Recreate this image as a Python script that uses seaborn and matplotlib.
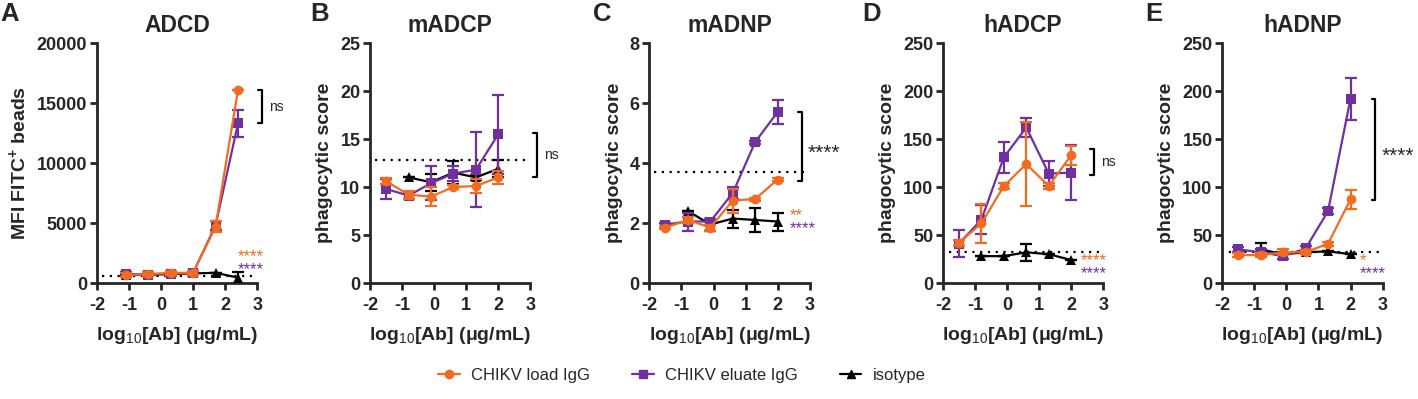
import numpy as np
import pandas as pd
import seaborn as sns
import matplotlib.pyplot as plt
from matplotlib.lines import Line2D

sns.set_style("ticks")
plt.rcParams['font.family'] = ['Liberation Sans', 'DejaVu Sans']
plt.rcParams['mathtext.fontset'] = 'custom'
plt.rcParams['mathtext.rm'] = 'Liberation Sans'
plt.rcParams['mathtext.bf'] = 'Liberation Sans:bold'
plt.rcParams['axes.unicode_minus'] = False

ORANGE = '#F36B21'
PURPLE = '#7030A0'
BLACK = '#000000'

groups = ['CHIKV load IgG', 'CHIKV eluate IgG', 'isotype']

# ADCD
adcd_x = [-1.1, -0.4, 0.3, 1.0, 1.7, 2.4]
adcd_load = [650, 750, 850, 850, 4700, 16100]
adcd_load_err = [150, 150, 150, 150, 450, 0]
adcd_eluate = [750, 700, 750, 850, 4800, 13300]
adcd_eluate_err = [150, 150, 150, 150, 400, 1100]
adcd_iso = [700, 700, 750, 800, 850, 450]
adcd_iso_err = [0, 0, 0, 0, 0, 500]

# mADCP
madcp_x = [-1.5, -0.8, -0.1, 0.6, 1.3, 2.0]
madcp_load = [10.6, 9.2, 9.0, 10.0, 10.1, 11.0]
madcp_load_err = [0.3, 0.4, 1.0, 0.2, 0.7, 0.7]
madcp_eluate = [9.8, 9.1, 10.4, 11.4, 11.8, 15.5]
madcp_eluate_err = [1.0, 0.4, 1.8, 0.8, 3.9, 4.1]
madcp_iso = [np.nan, 11.0, 10.5, 11.5, 11.0, 11.9]
madcp_iso_err = [0, 0, 0.9, 1.2, 0.3, 0.9]

# mADNP
madnp_x = [-1.5, -0.8, -0.1, 0.6, 1.3, 2.0]
madnp_load = [1.85, 2.1, 1.85, 2.75, 2.8, 3.45]
madnp_load_err = [0.05, 0.1, 0.1, 0.4, 0.05, 0.05]
madnp_eluate = [1.95, 2.05, 2.05, 3.0, 4.7, 5.7]
madnp_eluate_err = [0.05, 0.3, 0.1, 0.2, 0.05, 0.4]
madnp_iso = [np.nan, 2.4, 1.95, 2.15, 2.1, 2.05]
madnp_iso_err = [0, 0, 0.2, 0.3, 0.4, 0.3]

# hADCP
hadcp_x = [-1.5, -0.8, -0.1, 0.6, 1.3, 2.0]
hadcp_load = [42, 62, 101, 124, 101, 133]
hadcp_load_err = [3, 20, 3, 44, 3, 10]
hadcp_eluate = [41, 66, 131, 162, 114, 115]
hadcp_eluate_err = [14, 15, 16, 10, 13, 29]
hadcp_iso = [np.nan, 28, 28, 32, 30, 24]
hadcp_iso_err = [0, 0, 0, 9, 0, 0]

# hADNP
hadnp_x = [-1.5, -0.8, -0.1, 0.6, 1.3, 2.0]
hadnp_load = [29, 29, 32, 32, 41, 87]
hadnp_load_err = [2, 2, 3, 2, 2, 10]
hadnp_eluate = [35, 32, 28, 36, 75, 192]
hadnp_eluate_err = [3, 3, 3, 3, 3, 22]
hadnp_iso = [np.nan, 35, 30, 32, 33, 30]
hadnp_iso_err = [0, 7, 0, 0, 0, 0]

panels = [
    dict(letter='A', title='ADCD', x=adcd_x, load=adcd_load, load_err=adcd_load_err,
         eluate=adcd_eluate, eluate_err=adcd_eluate_err, iso=adcd_iso, iso_err=adcd_iso_err,
         ylim=20000, yticks=[0, 5000, 10000, 15000, 20000], ylabel=r'MFI FITC$^{\mathbf{+}}$ beads',
         dotted=(600, -1.85, 2.9), bracket=(3.15, 13300, 16100, 'ns', False),
         stars=[(2.4, 2200, '****', ORANGE), (2.4, 1100, '****', PURPLE)]),
    dict(letter='B', title='mADCP', x=madcp_x, load=madcp_load, load_err=madcp_load_err,
         eluate=madcp_eluate, eluate_err=madcp_eluate_err, iso=madcp_iso, iso_err=madcp_iso_err,
         ylim=25, yticks=[0, 5, 10, 15, 20, 25], ylabel='phagocytic score',
         dotted=(12.8, -1.85, 2.9), bracket=(3.2, 11.0, 15.6, 'ns', False), stars=[]),
    dict(letter='C', title='mADNP', x=madnp_x, load=madnp_load, load_err=madnp_load_err,
         eluate=madnp_eluate, eluate_err=madnp_eluate_err, iso=madnp_iso, iso_err=madnp_iso_err,
         ylim=8, yticks=[0, 2, 4, 6, 8], ylabel='phagocytic score',
         dotted=(3.7, -1.85, 2.9), bracket=(2.75, 3.4, 5.7, '****', True),
         stars=[(2.37, 2.25, '**', ORANGE), (2.37, 1.81, '****', PURPLE)]),
    dict(letter='D', title='hADCP', x=hadcp_x, load=hadcp_load, load_err=hadcp_load_err,
         eluate=hadcp_eluate, eluate_err=hadcp_eluate_err, iso=hadcp_iso, iso_err=hadcp_iso_err,
         ylim=250, yticks=[0, 50, 100, 150, 200, 250], ylabel='phagocytic score',
         dotted=(32, -1.8, 2.95), bracket=(2.7, 113, 140, 'ns', False),
         stars=[(2.3, 23.5, '****', ORANGE), (2.3, 9.75, '****', PURPLE)]),
    dict(letter='E', title='hADNP', x=hadnp_x, load=hadnp_load, load_err=hadnp_load_err,
         eluate=hadnp_eluate, eluate_err=hadnp_eluate_err, iso=hadnp_iso, iso_err=hadnp_iso_err,
         ylim=250, yticks=[0, 50, 100, 150, 200, 250], ylabel='phagocytic score',
         dotted=(32, -2.05, 2.95), bracket=(2.78, 86, 192, '****', True),
         stars=[(2.3, 23.5, '*', ORANGE), (2.3, 9.75, '****', PURPLE)]),
]

palette = {groups[0]: ORANGE, groups[1]: PURPLE, groups[2]: BLACK}
markers = {groups[0]: 'o', groups[1]: 's', groups[2]: '^'}

fig = plt.figure(figsize=(14.18, 3.99), dpi=100)
lefts = [0.0684, 0.261, 0.458, 0.665, 0.862]
letter_x = [0.0, 0.2186, 0.418, 0.608, 0.8075]

for left, lx, p in zip(lefts, letter_x, panels):
    ax = fig.add_axes([left, 0.2907, 0.113, 0.6015])
    df = pd.DataFrame({
        'x': p['x'] * 3,
        'y': p['iso'] + p['eluate'] + p['load'],
        'group': [groups[2]] * 6 + [groups[1]] * 6 + [groups[0]] * 6,
    })
    # horizontal dotted reference line
    yd, x0, x1 = p['dotted']
    ax.plot([x0, x1], [yd, yd], ls=(0, (1, 2.5)), color='black', lw=1.6, zorder=1)
    errs = {groups[0]: p['load_err'], groups[1]: p['eluate_err'], groups[2]: p['iso_err']}
    for z, g in enumerate([groups[2], groups[1], groups[0]]):
        mask = df['group'] == g
        sub = df[mask].dropna()
        e = np.array(errs[g])[df[mask]['y'].notna().values]
        ax.errorbar(sub['x'], sub['y'], yerr=e, fmt='none', ecolor=palette[g],
                    elinewidth=1.6, capsize=4.5, capthick=1.6, zorder=2 + 2 * z)
        sns.lineplot(data=sub, x='x', y='y', color=palette[g], marker=markers[g],
                     markersize=7 if g != groups[2] else 6.5, markeredgewidth=0,
                     lw=1.6, ax=ax, zorder=3 + 2 * z, legend=False)
    ax.set_xlim(-2, 3)
    ax.set_ylim(0, p['ylim'])
    ax.set_xticks([-2, -1, 0, 1, 2, 3])
    ax.set_yticks(p['yticks'])
    ax.set_xticklabels([str(t) for t in [-2, -1, 0, 1, 2, 3]], fontweight='bold')
    ax.set_yticklabels([str(t) for t in p['yticks']], fontweight='bold')
    for sp in ['top', 'right']:
        ax.spines[sp].set_visible(False)
    for sp in ['left', 'bottom']:
        ax.spines[sp].set_linewidth(2)
    ax.tick_params(width=2, length=5, labelsize=13)
    ax.tick_params(axis='x', pad=5)
    ax.tick_params(axis='y', pad=2)
    ax.set_xlabel(r'log$_{10}$[Ab] ($\mathbf{\mu}$g/mL)', fontsize=14, fontweight='bold', labelpad=8)
    ax.set_ylabel(p['ylabel'], fontsize=14, fontweight='bold', labelpad=5)
    ax.set_title(p['title'], fontsize=16.5, fontweight='bold', pad=8)
    fig.text(lx, 0.994, p['letter'], fontsize=18.5, fontweight='bold', va='top', ha='left')
    # significance bracket
    bx, by0, by1, btxt, bold = p['bracket']
    tick = 0.12
    ax.plot([bx - tick, bx, bx, bx - tick], [by0, by0, by1, by1], color='black', lw=1.6, clip_on=False)
    if bold:
        off = 0.03 * p['ylim']
        ax.text(bx + 0.2, (by0 + by1) / 2 - off, btxt, fontsize=15, va='center', ha='left', clip_on=False)
    else:
        ax.text(bx + 0.22, (by0 + by1) / 2, btxt, fontsize=10, va='center', ha='left', clip_on=False)
    for sx, sy, st, sc in p['stars']:
        ax.text(sx, sy, st, color=sc, fontsize=12, va='center', ha='left', clip_on=False)

handles = [Line2D([0], [0], color=palette[g], marker=markers[g], lw=1.6, markersize=6)
           for g in groups]
fig.legend(handles, groups, loc='center', bbox_to_anchor=(0.481, 0.06), ncol=3,
           frameon=False, fontsize=12, columnspacing=2.5, handlelength=1.3, handletextpad=0.7)

fig.savefig('out.png', dpi=100)
